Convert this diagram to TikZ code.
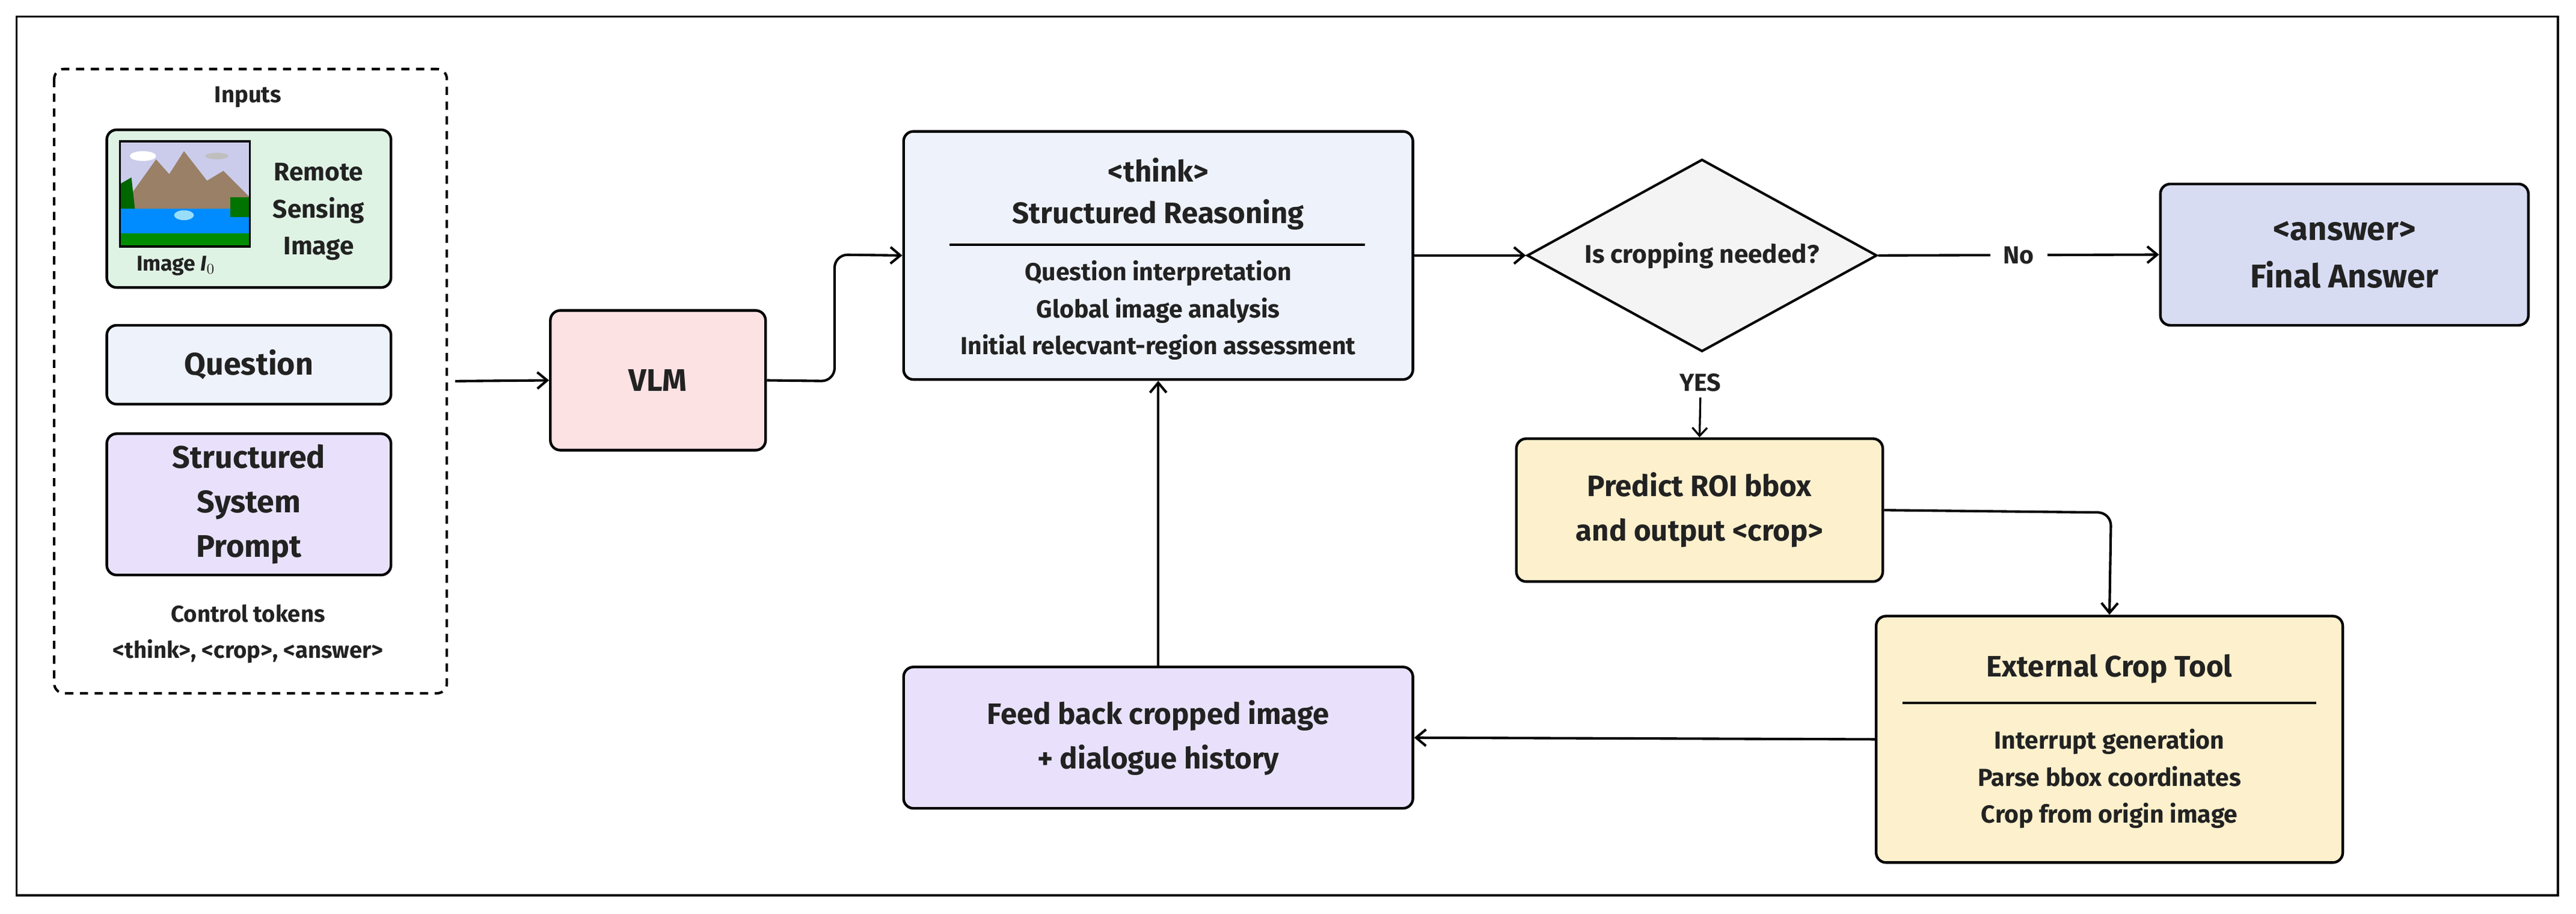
\documentclass[tikz,border=0pt]{standalone}
\usepackage{fontspec}
\setmainfont{Fira Sans}
\usetikzlibrary{shapes.geometric,arrows.meta}
\definecolor{cgreen}{HTML}{DFF3E4}
\definecolor{cblue}{HTML}{EEF2FB}
\definecolor{cpurple}{HTML}{E9E1FB}
\definecolor{cpink}{HTML}{FDE2E4}
\definecolor{cgray}{HTML}{F4F4F4}
\definecolor{cans}{HTML}{D8DCF3}
\definecolor{cyel}{HTML}{FDF0CC}
\definecolor{ctext}{HTML}{222222}
\begin{document}
\begin{tikzpicture}[x=1pt,y=-1pt,
  box/.style={draw=black,line width=1.6pt,rounded corners=6pt,align=center,text=ctext,font=\bfseries\fontsize{19}{23}\selectfont,inner sep=0pt},
  arr/.style={-{Straight Barb[length=6pt,width=10pt]},line width=1.5pt},
  item/.style={font=\bfseries\fontsize{15}{18}\selectfont,text=ctext}]
\useasboundingbox (0,0) rectangle (1568,556);
\draw[line width=1.3pt] (10,10) rectangle (1557,545);
\draw[dashed,line width=1.5pt,rounded corners=6pt,dash pattern=on 5pt off 4pt] (33,42) rectangle (272,422);
\node[font=\bfseries\fontsize{14}{16}\selectfont,text=ctext] (inputs) at (151,59) {Inputs};
% green image box
\draw[box,fill=cgreen] (65,79) rectangle (238,175);
\node[box,draw=none,font=\bfseries\fontsize{15.5}{22.5}\selectfont] (rs) at (194,129) {Remote\\Sensing\\Image};
% landscape picture
\begin{scope}
\fill[cyan!25!blue!20] (73,86) rectangle (152,150);
\fill[white] (87,95) ellipse (8 and 3);
\fill[gray!50] (132,95) ellipse (7 and 2);
\fill[brown!40!gray] (75,125) -- (95,97) -- (103,106) -- (112,92) -- (126,110) -- (136,104) -- (152,120) -- (152,130) -- (73,130) -- cycle;
\fill[green!40!black] (73,112) -- (80,108) -- (83,135) -- (73,135) -- cycle;
\fill[blue!45!cyan] (73,127) rectangle (152,142);
\fill[white!60!cyan] (112,131) ellipse (6 and 3);
\fill[green!55!black] (73,142) rectangle (152,150);
\fill[green!45!black] (140,120) rectangle (152,132);
\end{scope}
\draw[line width=1.3pt] (73,86) rectangle (152,150);
\node[item,font=\bfseries\fontsize{13}{15}\selectfont] (imgl) at (107,162) {Image \textit{I}$_0$};
\node[box,fill=cblue,minimum width=173pt,minimum height=48pt] (q) at (151.5,222) {Question};
\node[box,fill=cpurple,minimum width=173pt,minimum height=86pt,font=\bfseries\fontsize{19}{27}\selectfont] (sp) at (151.5,307) {Structured\\System\\Prompt};
\node[font=\bfseries\fontsize{14}{22}\selectfont,text=ctext,align=center] (ct) at (151,386) {Control tokens\\\textless think\textgreater, \textless crop\textgreater, \textless answer\textgreater};
\coordinate (inR) at (277,232);
\node[box,fill=cpink,minimum width=131pt,minimum height=85pt] (vlm) at (400.5,231.5) {VLM};
\draw[arr] (inR) -- (vlm.west);
\node[box,fill=cblue,minimum width=310pt,minimum height=151pt] (think) at (705,155.5) {};
\node[box,draw=none,fill=none,font=\bfseries\fontsize{18}{25}\selectfont] (tt) at (705,118) {\textless think\textgreater\\Structured Reasoning};
\draw[line width=1.5pt] (578,149) -- (831,149);
\node[item,align=center,font=\bfseries\fontsize{15}{22.5}\selectfont] (ti) at (705,189) {Question interpretation\\Global image analysis\\Initial relecvant-region assessment};
\draw[arr,rounded corners=8pt] (vlm.east) -- (508,232) -- (508,155) -- (think.west);
\node[diamond,draw,line width=1.5pt,fill=cgray,minimum width=213pt,minimum height=117pt,aspect=1.82,inner sep=0pt,font=\bfseries\fontsize{15.5}{18}\selectfont,text=ctext] (dec) at (1036,155.5) {Is cropping needed?};
\draw[arr] (think.east) -- (dec.west);
\node[box,fill=cans,minimum width=224pt,minimum height=86pt,font=\bfseries\fontsize{20}{29}\selectfont] (ans) at (1427,155) {\textless answer\textgreater\\Final Answer};
\draw[arr] (dec.east) -- node[fill=white,item,inner sep=8pt] {No} (ans.west);
\node[item] (yes) at (1035,233) {YES};
\node[box,fill=cyel,minimum width=223pt,minimum height=87pt,font=\bfseries\fontsize{18}{27}\selectfont] (pred) at (1034.5,310.5) {Predict ROI bbox\\and output \textless crop\textgreater};
\draw[-{Straight Barb[length=5pt,width=9pt]},line width=1.2pt] (yes.south) -- (pred.north);
\node[box,fill=cyel,minimum width=284pt,minimum height=150pt] (crop) at (1284,450) {};
\node[box,draw=none,fill=none,font=\bfseries\fontsize{18}{22}\selectfont] (ct2) at (1284,407) {External Crop Tool};
\draw[line width=1.5pt] (1158,428) -- (1410,428);
\node[item,align=center,font=\bfseries\fontsize{15}{22.5}\selectfont] (ci) at (1284,474) {Interrupt generation\\Parse bbox coordinates\\Crop from origin image};
\draw[arr,rounded corners=8pt] (pred.east) -- (1285,312) -- (crop.north);
\node[box,fill=cpurple,minimum width=310pt,minimum height=86pt,font=\bfseries\fontsize{18}{27}\selectfont] (feed) at (705,449) {Feed back cropped image\\+ dialogue history};
\draw[arr] (crop.west) -- (feed.east);
\draw[arr] (feed.north) -- (think.south);
\end{tikzpicture}
\end{document}
